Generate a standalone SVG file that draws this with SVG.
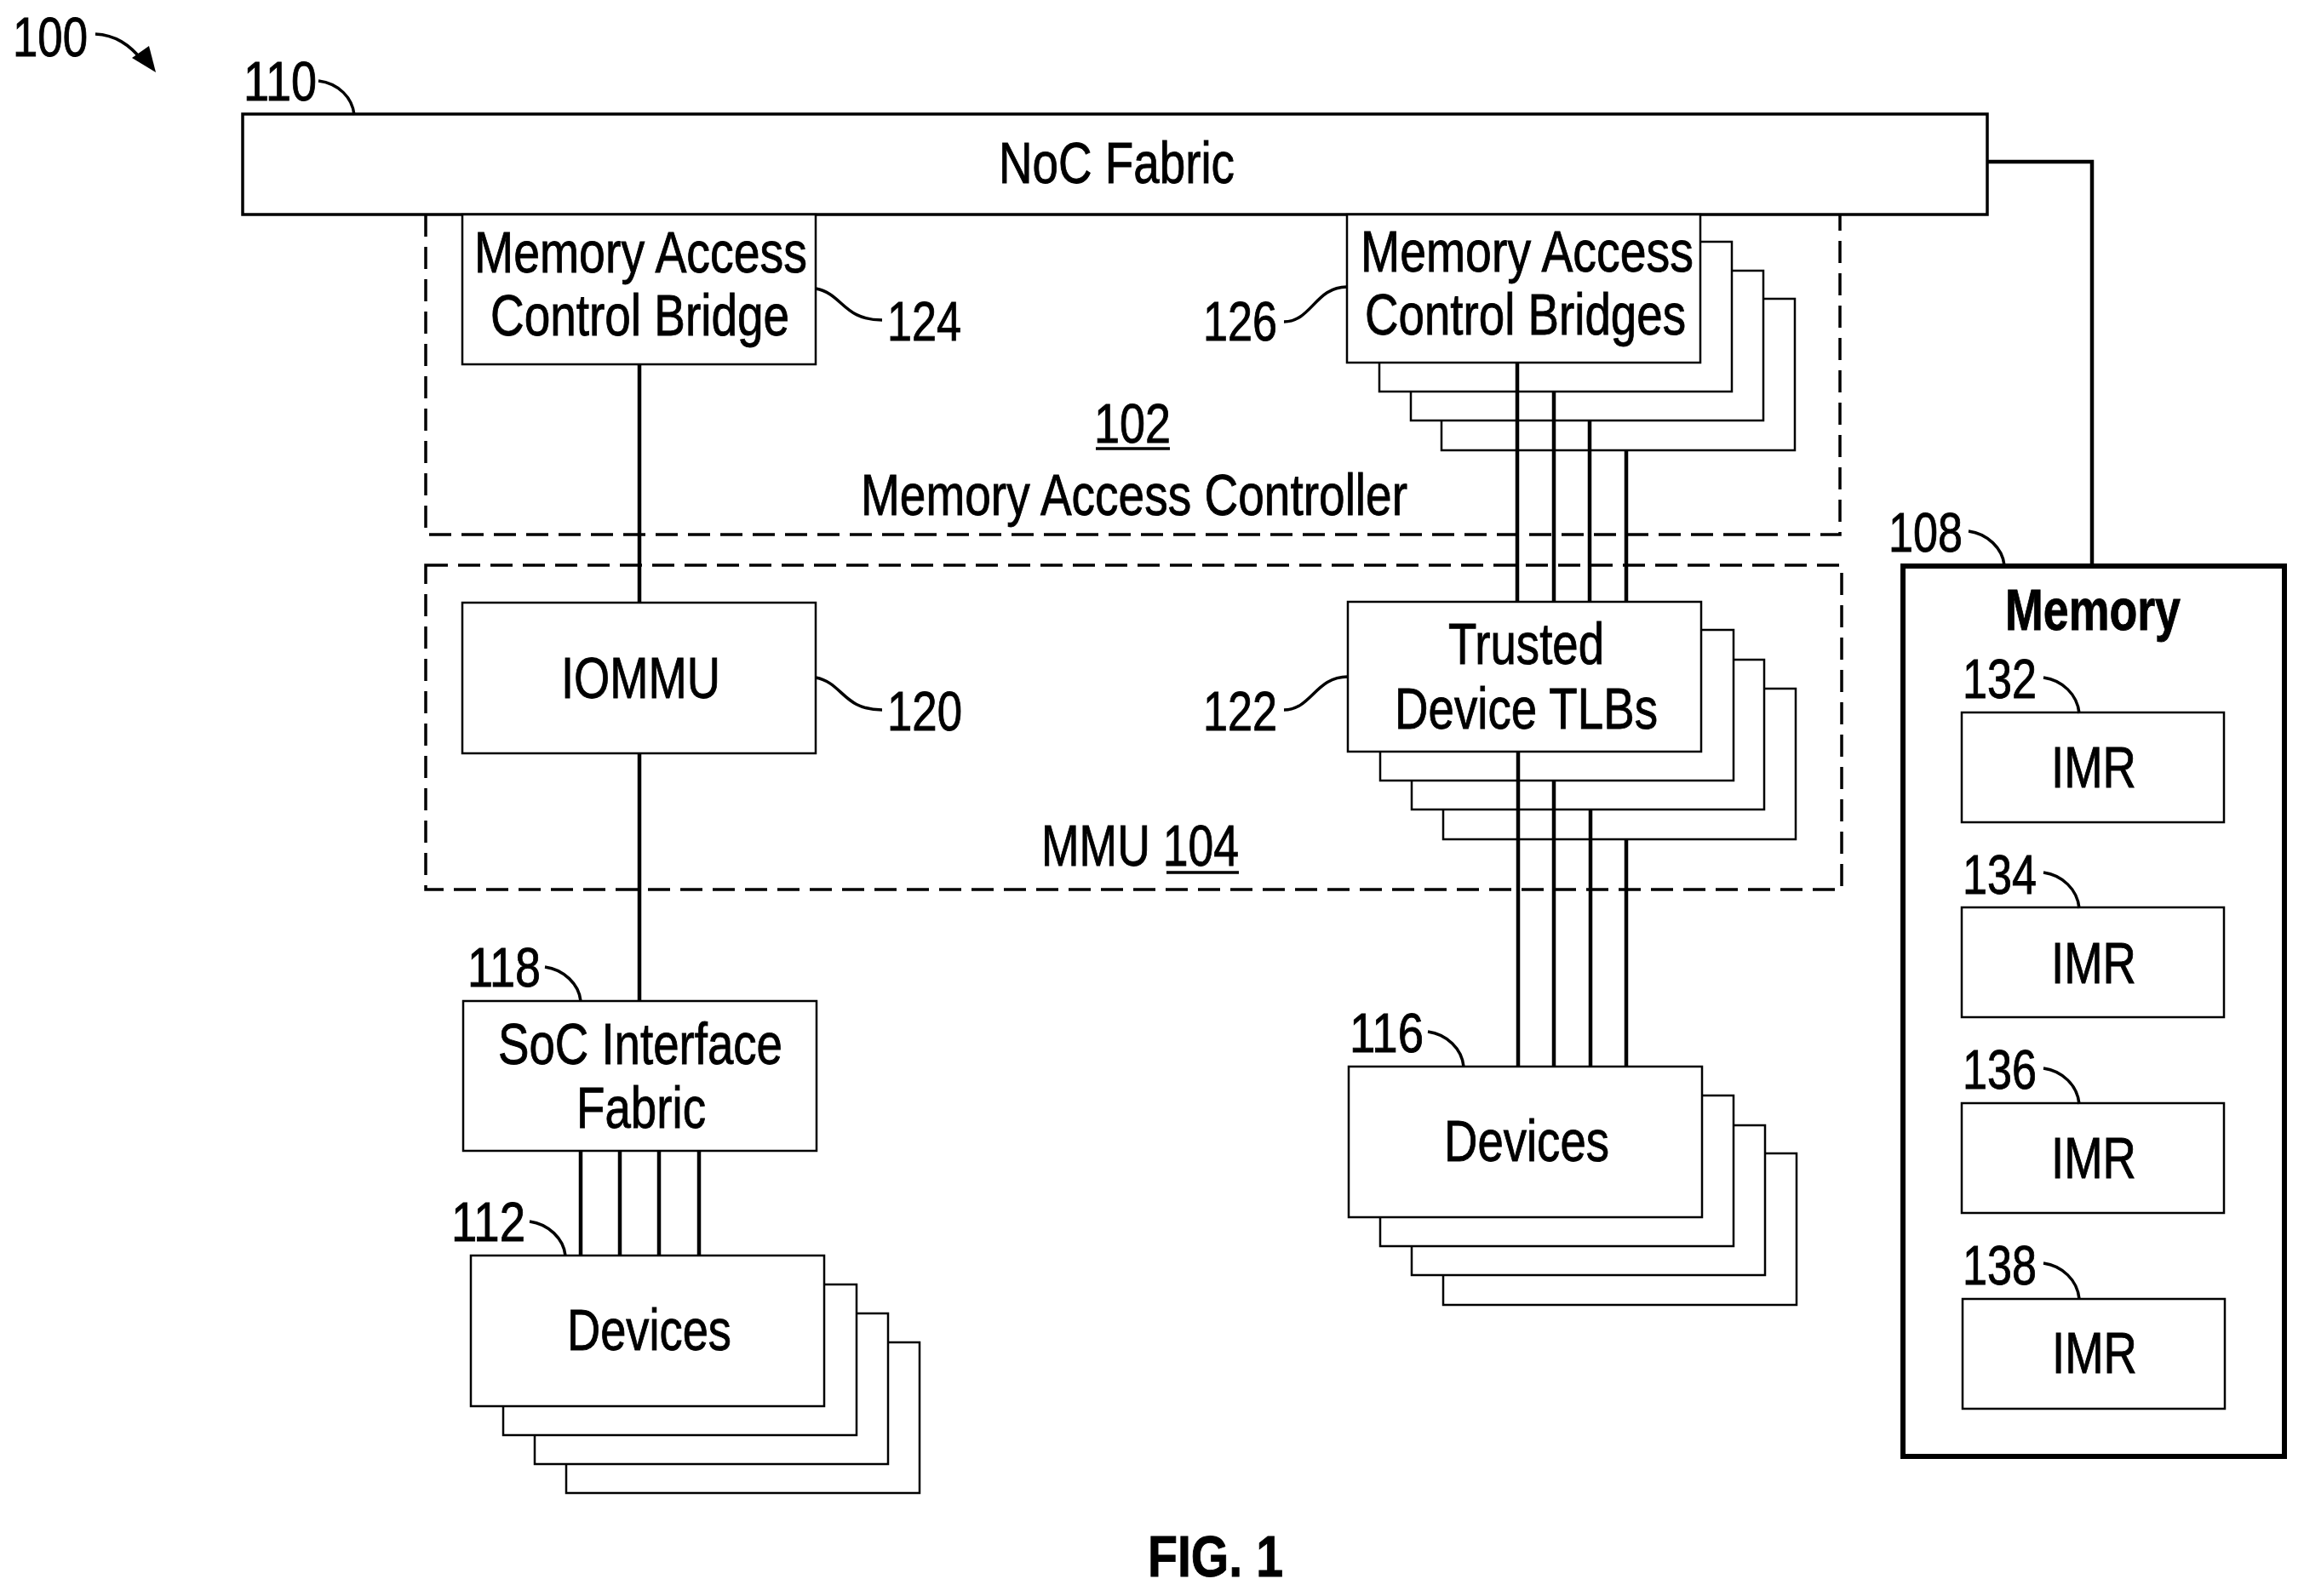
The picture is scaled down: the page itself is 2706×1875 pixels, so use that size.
<svg xmlns="http://www.w3.org/2000/svg" width="2706" height="1875" viewBox="0 0 2706 1875">
<defs>
<style>
text{font-family:"Liberation Sans",Arial,sans-serif;font-size:68px;fill:#000;stroke:#000;stroke-width:.9}
.n{font-size:64px}
.b{fill:#fff;stroke:#000;stroke-width:2.5}
.h{fill:#fff;stroke:#000;stroke-width:3.5}
.d{fill:none;stroke:#000;stroke-width:3.5;stroke-dasharray:26 12}
.c{fill:none;stroke:#000;stroke-width:4.5}
.l{fill:none;stroke:#000;stroke-width:3.5}
.u{stroke:#000;stroke-width:3.5}
</style>
</defs>
<rect width="2706" height="1875" fill="#fff"/>
<g id="memory-access-controller">
<path class="d" d="M500 252V628H2161V252"/>
<text x="1285" y="520" class="n" textLength="90" lengthAdjust="spacingAndGlyphs">102</text>
<line class="u" x1="1287" y1="527" x2="1374" y2="527"/>
<text x="1011" y="605" textLength="642" lengthAdjust="spacingAndGlyphs">Memory Access Controller</text>
</g>
<g id="mmu">
<rect class="d" x="500" y="664" width="1663" height="381"/>
<text x="1223" y="1017" textLength="232" lengthAdjust="spacingAndGlyphs">MMU 104</text>
<line class="u" x1="1370" y1="1025" x2="1455" y2="1025"/>
</g>
<g id="noc-fabric">
<rect class="h" x="285" y="134" width="2049" height="118"/>
<text x="1173" y="215" textLength="277" lengthAdjust="spacingAndGlyphs">NoC Fabric</text>
<text x="286" y="118" class="n" textLength="86" lengthAdjust="spacingAndGlyphs">110</text>
<path class="l" d="M374 95C398 98 414 115 416 135"/>
</g>
<g id="bridge-124">
<rect class="b" x="543" y="252" width="415" height="176"/>
<text x="557" y="320" textLength="391" lengthAdjust="spacingAndGlyphs">Memory Access</text>
<text x="576" y="394" textLength="351" lengthAdjust="spacingAndGlyphs">Control Bridge</text>
<text x="1042" y="400" class="n" textLength="87" lengthAdjust="spacingAndGlyphs">124</text>
<path class="l" d="M958 339C990 345 990 376 1036 376"/>
</g>
<g id="bridges-126">
<rect class="b" x="1693" y="351" width="415" height="178"/>
<rect class="b" x="1657" y="318" width="414" height="176"/>
<rect class="b" x="1620" y="284" width="414" height="176"/>
<rect class="b" x="1582" y="252" width="415" height="174"/>
<text x="1598" y="319" textLength="391" lengthAdjust="spacingAndGlyphs">Memory Access</text>
<text x="1603" y="393" textLength="377" lengthAdjust="spacingAndGlyphs">Control Bridges</text>
<text x="1413" y="400" class="n" textLength="87" lengthAdjust="spacingAndGlyphs">126</text>
<path class="l" d="M1508 378C1540 378 1545 337 1582 337"/>
</g>
<g id="iommu">
<rect class="b" x="543" y="708" width="415" height="177"/>
<text x="659" y="820" textLength="187" lengthAdjust="spacingAndGlyphs">IOMMU</text>
<text x="1042" y="858" class="n" textLength="88" lengthAdjust="spacingAndGlyphs">120</text>
<path class="l" d="M958 796C990 802 990 834 1036 834"/>
</g>
<g id="tlbs">
<rect class="b" x="1695" y="809" width="414" height="177"/>
<rect class="b" x="1658" y="775" width="414" height="176"/>
<rect class="b" x="1621" y="740" width="415" height="177"/>
<rect class="b" x="1583" y="707" width="415" height="176"/>
<text x="1701" y="780" textLength="183" lengthAdjust="spacingAndGlyphs">Trusted</text>
<text x="1638" y="856" textLength="309" lengthAdjust="spacingAndGlyphs">Device TLBs</text>
<text x="1413" y="858" class="n" textLength="87" lengthAdjust="spacingAndGlyphs">122</text>
<path class="l" d="M1508 834C1540 834 1545 795 1583 795"/>
</g>
<g id="soc-fabric">
<rect class="b" x="544" y="1176" width="415" height="176"/>
<text x="585" y="1250" textLength="334" lengthAdjust="spacingAndGlyphs">SoC Interface</text>
<text x="677" y="1325" textLength="152" lengthAdjust="spacingAndGlyphs">Fabric</text>
<text x="549" y="1159" class="n" textLength="86" lengthAdjust="spacingAndGlyphs">118</text>
<path class="l" d="M640 1136C662 1139 680 1156 682 1176"/>
</g>
<g id="devices-112">
<rect class="b" x="665" y="1577" width="415" height="177"/>
<rect class="b" x="628" y="1543" width="415" height="177"/>
<rect class="b" x="591" y="1509" width="415" height="177"/>
<rect class="b" x="553" y="1475" width="415" height="177"/>
<text x="666" y="1586" textLength="193" lengthAdjust="spacingAndGlyphs">Devices</text>
<text x="530" y="1458" class="n" textLength="87" lengthAdjust="spacingAndGlyphs">112</text>
<path class="l" d="M622 1435C644 1438 662 1455 664 1475"/>
</g>
<g id="devices-116">
<rect class="b" x="1695" y="1355" width="415" height="178"/>
<rect class="b" x="1658" y="1322" width="415" height="176"/>
<rect class="b" x="1621" y="1287" width="415" height="177"/>
<rect class="b" x="1584" y="1253" width="415" height="177"/>
<text x="1696" y="1364" textLength="194" lengthAdjust="spacingAndGlyphs">Devices</text>
<text x="1585" y="1236" class="n" textLength="87" lengthAdjust="spacingAndGlyphs">116</text>
<path class="l" d="M1677 1212C1699 1215 1717 1232 1719 1253"/>
</g>
<g id="memory">
<rect x="2235" y="665" width="448" height="1046" fill="#fff" stroke="#000" stroke-width="6"/>
<text x="2355" y="740" font-weight="700" textLength="206" lengthAdjust="spacingAndGlyphs">Memory</text>
<text x="2218" y="648" class="n" textLength="87" lengthAdjust="spacingAndGlyphs">108</text>
<path class="l" d="M2312 624C2334 627 2352 644 2354 664"/>
</g>
<g id="imr-132">
<rect class="b" x="2304" y="837" width="308" height="129"/>
<text x="2409" y="925" textLength="100" lengthAdjust="spacingAndGlyphs">IMR</text>
<text x="2305" y="820" class="n" textLength="87" lengthAdjust="spacingAndGlyphs">132</text>
<path class="l" d="M2400 796C2422 799 2440 816 2442 838"/>
</g>
<g id="imr-134">
<rect class="b" x="2304" y="1066" width="308" height="129"/>
<text x="2409" y="1155" textLength="100" lengthAdjust="spacingAndGlyphs">IMR</text>
<text x="2305" y="1050" class="n" textLength="87" lengthAdjust="spacingAndGlyphs">134</text>
<path class="l" d="M2400 1025C2422 1028 2440 1045 2442 1067"/>
</g>
<g id="imr-136">
<rect class="b" x="2304" y="1296" width="308" height="129"/>
<text x="2409" y="1384" textLength="100" lengthAdjust="spacingAndGlyphs">IMR</text>
<text x="2305" y="1279" class="n" textLength="87" lengthAdjust="spacingAndGlyphs">136</text>
<path class="l" d="M2400 1255C2422 1258 2440 1275 2442 1297"/>
</g>
<g id="imr-138">
<rect class="b" x="2305" y="1526" width="308" height="129"/>
<text x="2410" y="1613" textLength="100" lengthAdjust="spacingAndGlyphs">IMR</text>
<text x="2305" y="1509" class="n" textLength="87" lengthAdjust="spacingAndGlyphs">138</text>
<path class="l" d="M2400 1484C2422 1487 2440 1504 2442 1526"/>
</g>
<g id="connectors">
<path class="c" d="M2334 190H2457V665"/>
<path class="c" d="M751 428V708M751 885V1176"/>
<path class="c" d="M682 1352V1475M728 1352V1475M774 1352V1475M821 1352V1475"/>
<path class="c" d="M1782 426V707M1825 460V707M1867 494V707M1910 529V707"/>
<path class="c" d="M1783 883V1253M1825 917V1253M1868 951V1253M1910 986V1253"/>
</g>
<g id="ref-100">
<text x="15" y="66" class="n" textLength="88" lengthAdjust="spacingAndGlyphs">100</text>
<path class="l" d="M112 40C135 41 152 52 168 72"/>
<path d="M183 85L155 68L175 54Z" fill="#000"/>
</g>
<text x="1348" y="1852" font-weight="700" textLength="159" lengthAdjust="spacingAndGlyphs">FIG. 1</text>
</svg>
